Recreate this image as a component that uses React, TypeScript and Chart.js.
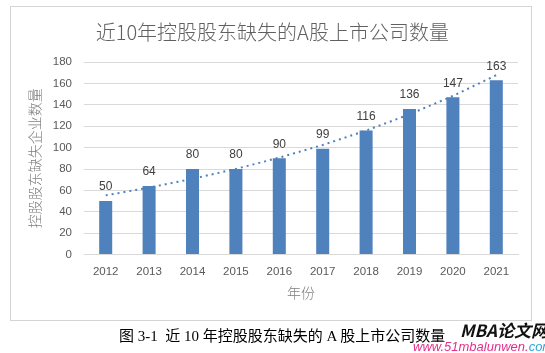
import React, { useEffect, useRef } from "react";
import { Chart, registerables } from "chart.js";

Chart.register(...registerables);

const years = ["2012", "2013", "2014", "2015", "2016", "2017", "2018", "2019", "2020", "2021"];
const counts = [50, 64, 80, 80, 90, 99, 116, 136, 147, 163];
const yTicks = [0, 20, 40, 60, 80, 100, 120, 140, 160, 180];

const titleText = "近10年控股股东缺失的A股上市公司数量";
const yTitle = "控股股东缺失企业数量";
const xTitle = "年份";
const caption = "图 3-1  近 10 年控股股东缺失的 A 股上市公司数量";

// Exponential trendline (as Excel's) computed from the data
function expTrend(vals: number[]): number[] {
  const n = vals.length;
  const xs = vals.map((_, i) => i + 1);
  const ls = vals.map((v) => Math.log(v));
  const mx = xs.reduce((a, b) => a + b, 0) / n;
  const ml = ls.reduce((a, b) => a + b, 0) / n;
  let sxy = 0, sxx = 0;
  for (let i = 0; i < n; i++) {
    sxy += (xs[i] - mx) * (ls[i] - ml);
    sxx += (xs[i] - mx) * (xs[i] - mx);
  }
  const b = sxy / sxx;
  const a = ml - b * mx;
  return xs.map((x) => Math.exp(a + b * x));
}

const SANS = "'Noto Sans CJK SC', 'Liberation Sans', sans-serif";
const NUM = "'Liberation Sans', 'Noto Sans', sans-serif";

const labelPlugin = {
  id: "barLabels",
  afterDatasetsDraw(chart: any) {
    const meta = chart.getDatasetMeta(0);
    const ctx = chart.ctx;
    ctx.save();
    ctx.font = `12px ${NUM}`;
    ctx.fillStyle = "#404040";
    ctx.textAlign = "center";
    ctx.textBaseline = "middle";
    meta.data.forEach((el: any, i: number) => {
      ctx.fillText(String(counts[i]), el.x, el.y - 14);
    });
    ctx.restore();
  },
};

export default function App() {
  const ref = useRef<HTMLCanvasElement | null>(null);
  useEffect(() => {
    if (!ref.current) return;
    const chart = new Chart(ref.current, {
      data: {
        labels: years,
        datasets: [
          {
            type: "bar",
            data: counts,
            backgroundColor: "#4f81bd",
            borderWidth: 0,
            barPercentage: 0.3,
            categoryPercentage: 1,
            order: 2,
          },
          {
            type: "line",
            data: expTrend(counts),
            borderColor: "#4f81bd",
            borderWidth: 2,
            borderDash: [2, 4],
            pointRadius: 0,
            fill: false,
            order: 1,
          },
        ],
      } as any,
      options: {
        animation: false,
        responsive: false,
        maintainAspectRatio: false,
        layout: { padding: { left: 26.6, right: 27, top: 8, bottom: 52 } },
        plugins: {
          legend: { display: false },
          tooltip: { enabled: false },
          title: {
            display: true,
            text: titleText,
            color: "#606060",
            font: { size: 20, family: SANS, weight: 300 },
            padding: { top: 12, bottom: 18 },
          },
        },
        scales: {
          x: {
            grid: { display: false, drawTicks: false },
            border: { display: true, color: "#d9d9d9", width: 1 },
            ticks: { color: "#595959", font: { size: 11.5, family: NUM }, padding: 10, maxRotation: 0 },
            title: {
              display: true,
              text: xTitle,
              color: "#7f7f7f",
              font: { size: 14, family: SANS, weight: 300 },
              padding: { top: 0, bottom: 0 },
            },
            afterFit: (s: any) => {
              s.height = 46.4;
            },
          },
          y: {
            min: 0,
            max: 180,
            afterBuildTicks: (s: any) => {
              s.ticks = yTicks.map((v) => ({ value: v }));
            },
            grid: { color: "#d9d9d9", lineWidth: 1, drawTicks: false },
            border: { display: false },
            ticks: { color: "#595959", font: { size: 11.5, family: NUM }, padding: 12 },
            title: {
              display: true,
              text: yTitle,
              color: "#7f7f7f",
              font: { size: 14, family: SANS, weight: 300 },
              padding: { top: 0, bottom: 0 },
            },
            afterFit: (s: any) => {
              s.width = 57.4;
            },
          },
        },
      } as any,
      plugins: [labelPlugin],
    });
    return () => chart.destroy();
  }, []);

  return (
    <div style={{ position: "absolute", left: 0, top: 0, width: 545, height: 353, background: "#fff", overflow: "hidden" }}>
      <div
        style={{
          position: "absolute",
          left: 10,
          top: 6,
          width: 522,
          height: 315,
          border: "1px solid #d4d4d4",
          boxSizing: "border-box",
        }}
      />
      <canvas ref={ref} width={545} height={353} style={{ position: "absolute", left: 0, top: 0, width: 545, height: 353 }} />
      <div
        style={{
          position: "absolute",
          left: 119,
          top: 327,
          fontFamily: "'Liberation Serif', 'Noto Sans CJK SC', serif",
          fontSize: 15,
          lineHeight: "19px",
          color: "#000",
          whiteSpace: "pre",
        }}
      >
        {caption}
      </div>
      <div
        style={{
          position: "absolute",
          left: 460,
          top: 319,
          fontFamily: "'Noto Sans CJK SC', 'Liberation Sans', sans-serif",
          fontSize: 17,
          fontWeight: "bold",
          fontStyle: "italic",
          lineHeight: "22px",
          color: "#111",
          whiteSpace: "pre",
        }}
      >
        MBA论文网
      </div>
      <div
        style={{
          position: "absolute",
          left: 413,
          top: 339,
          fontFamily: "'Liberation Sans', sans-serif",
          fontSize: 13,
          fontStyle: "italic",
          lineHeight: "16px",
          color: "#e0308c",
          whiteSpace: "pre",
        }}
      >
        www.51mbalunwen.<span style={{ color: "#2aa6d6" }}>com</span>
      </div>
    </div>
  );
}
